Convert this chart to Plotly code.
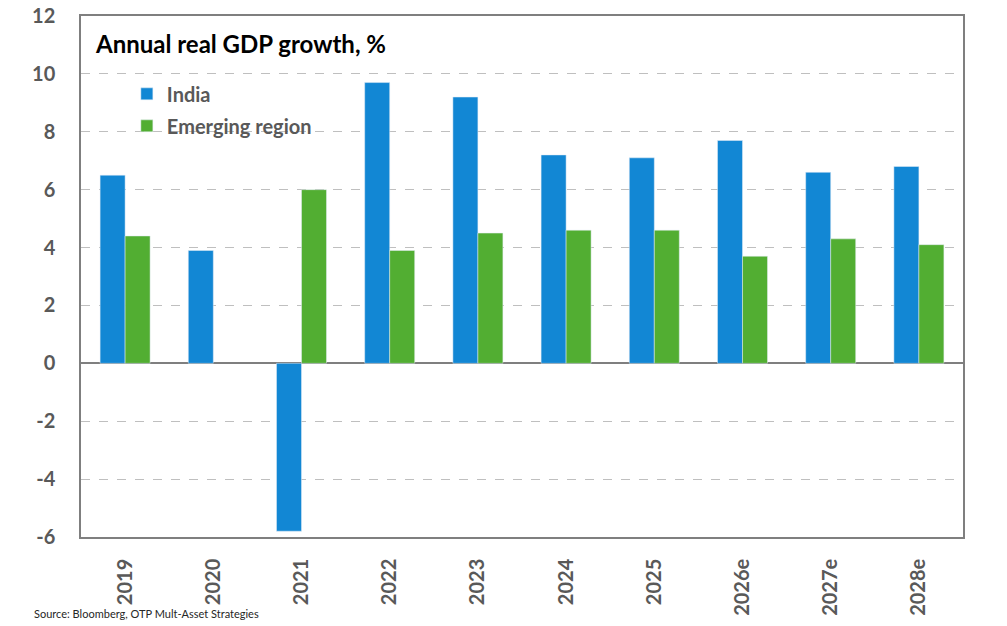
import plotly.graph_objects as go

years = ["2019", "2020", "2021", "2022", "2023", "2024", "2025", "2026e", "2027e", "2028e"]
india = [6.5, 3.9, -5.8, 9.7, 9.2, 7.2, 7.1, 7.7, 6.6, 6.8]
emerging = [4.4, None, 6.0, 3.9, 4.5, 4.6, 4.6, 3.7, 4.3, 4.1]
y_ticks = [-6, -4, -2, 0, 2, 4, 6, 8, 10, 12]
y_ticktext = ["-6", "-4", "-2", "0", "2", "4", "6", "8", "10", "12"]

BLUE = "#1287D4"
GREEN = "#52AE32"
FONT = "Lato, Calibri, sans-serif"

fig = go.Figure()
fig.add_trace(go.Bar(x=years, y=india, name="India", marker_color=BLUE,
                     legendgroup="a"))
fig.add_trace(go.Bar(x=years, y=emerging, name="Emerging region", marker_color=GREEN,
                     legendgroup="b"))

fig.update_layout(
    width=1007, height=626,
    margin=dict(l=81, r=44, t=16, b=89),
    plot_bgcolor="white", paper_bgcolor="white",
    barmode="group", bargap=0.433, bargroupgap=0,
    font=dict(family=FONT, color="#595959"),
    legend=dict(x=0.052, y=0.888, xanchor="left", yanchor="top",
                bgcolor="rgba(0,0,0,0)", tracegroupgap=3, traceorder="grouped",
                font=dict(size=20, color="#595959", family=FONT, weight="bold"),
                itemwidth=30),
    showlegend=True,
)
fig.update_xaxes(
    type="category", showline=True, linecolor="#7F7F7F", linewidth=1.5, mirror=True,
    tickangle=-90, ticks="", ticklabelstandoff=12, automargin=False,
    tickfont=dict(size=20, color="#595959", family=FONT, weight="bold"),
    showgrid=False,
)
fig.update_yaxes(
    range=[-6, 12], tickvals=y_ticks, ticktext=y_ticktext, showline=True,
    linecolor="#7F7F7F", linewidth=1.5, automargin=False,
    mirror=True, showgrid=True, gridcolor="#BFBFBF", griddash="dash", gridwidth=1,
    zeroline=True, zerolinecolor="#7F7F7F", zerolinewidth=1.5,
    ticks="", ticklabelstandoff=20,
    tickfont=dict(size=20, color="#595959", family=FONT, weight="bold"),
)
fig.add_annotation(text="Annual real GDP growth, %", xref="paper", yref="paper",
                   x=0.014, y=0.947, xanchor="left", yanchor="middle", showarrow=False,
                   font=dict(size=24, color="black", family=FONT, weight="bold"))
fig.add_annotation(text="Source: Bloomberg, OTP Mult-Asset Strategies", xref="paper", yref="paper",
                   x=-0.055, y=-0.147, xanchor="left", yanchor="middle", showarrow=False,
                   font=dict(size=11, color="#262626", family=FONT))

fig.write_html("out.html")
